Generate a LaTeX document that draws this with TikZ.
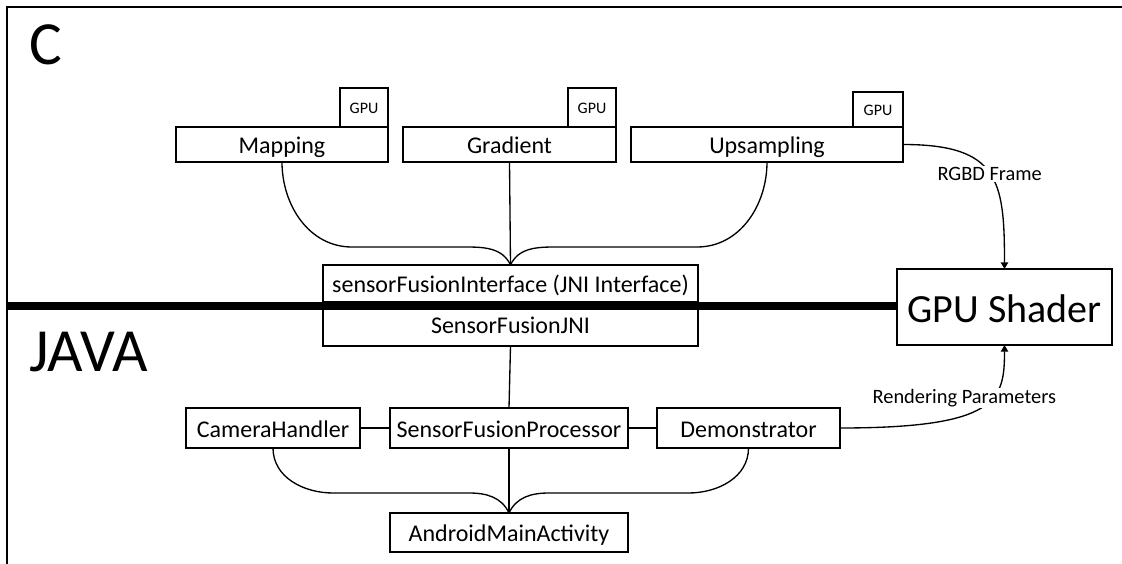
\documentclass[tikz,border=0pt]{standalone}
\usepackage{fontspec}
\setmainfont{Carlito}
\usetikzlibrary{arrows.meta, positioning, calc}

\begin{document}
\begin{tikzpicture}[
    x=0.75pt, y=0.75pt,
    box/.style={rectangle, draw, line width=1pt, inner sep=0pt, outer sep=0pt, minimum height=26.25pt, text height=14pt, text depth=0pt, text centered, font=\fontsize{18}{22}\selectfont},
    tag/.style={rectangle, draw, line width=1pt, inner sep=0pt, outer sep=0pt, minimum width=36pt, minimum height=29.25pt, text height=9.5pt, text depth=0pt, font=\fontsize{12}{14}\selectfont},
    link/.style={line width=1pt},
    arrow/.style={-{Triangle[length=5pt, width=5.5pt]}, line width=1pt},
    flow/.style={fill=white, inner sep=1pt, font=\fontsize{15.3}{18}\selectfont},
    world/.style={anchor=base west, inner sep=0pt, font=\fontsize{46}{50}\selectfont}
]
\useasboundingbox (0,0) rectangle (1122,-564);

% Frame and world labels
\draw[line width=2pt] (7,-564) -- (7,-7) -- (1122,-7);
\node[world] (cWorld) at (29,-64) {C};
\node[world] (javaWorld) at (29,-371) {JAVA};

% Native modules
\node[box, minimum width=159pt] (mapping) at (282,-144.5) {Mapping};
\node[box, minimum width=159.75pt, right=11.25pt of mapping] (gradient) {Gradient};
\node[box, minimum width=204pt, right=11.25pt of gradient] (upsampling) {Upsampling};

% GPU tags
\node[tag, above left=0pt of mapping.north east] (mappingGpu) {GPU};
\node[tag, above left=0pt of gradient.north east] (gradientGpu) {GPU};
\node[tag, minimum width=37.5pt, minimum height=26.25pt, above left=0pt of upsampling.north east] (upsamplingGpu) {GPU};

% JNI bridge
\node[box, minimum width=281.25pt, minimum height=27.75pt] (sfInterface) at (510.5,-283.5) {sensorFusionInterface (JNI Interface)};
\node[box, minimum width=281.25pt, minimum height=33pt, below=0pt of sfInterface] (sfJni) {SensorFusionJNI};

% Shader
\node[box, minimum width=161.25pt, minimum height=57pt, text height=23pt, font=\fontsize{30}{36}\selectfont] (gpuShader) at (1004.5,-307) {GPU Shader};

% Java classes
\node[box, minimum width=178.5pt, minimum height=30pt] (sfProcessor) at (509,-428) {SensorFusionProcessor};
\node[box, minimum width=130.5pt, minimum height=30pt, left=22.5pt of sfProcessor] (cameraHandler) {CameraHandler};
\node[box, minimum width=137.25pt, minimum height=30pt, right=21.75pt of sfProcessor] (demonstrator) {Demonstrator};
\node[box, minimum width=178.5pt, minimum height=29.25pt, below=48.75pt of sfProcessor] (mainActivity) {AndroidMainActivity};

% Fan-in to the interface
\draw[link] (gradient.south) -- (sfInterface.north);
\draw[link] (mapping.south) to[out=-90, in=180] ($(mapping.south)+(70,-85)$) -- ($(sfInterface.north)+(-45,18)$) to[out=0, in=115] (sfInterface.north);
\draw[link] (upsampling.south) to[out=-90, in=0] ($(upsampling.south)+(-70,-85)$) -- ($(sfInterface.north)+(45,18)$) to[out=180, in=65] (sfInterface.north);

% Java side
\draw[link] (sfJni.south) -- (sfProcessor.north);
\draw[link] (cameraHandler.east) -- (sfProcessor.west);
\draw[link] (sfProcessor.east) -- (demonstrator.west);
\draw[link] (sfProcessor.south) -- (mainActivity.north);
\draw[link] (cameraHandler.south) to[out=-90, in=180] ($(cameraHandler.south)+(60,-45)$) -- ($(mainActivity.north)+(-40,20)$) to[out=0, in=115] (mainActivity.north);
\draw[link] (demonstrator.south) to[out=-90, in=0] ($(demonstrator.south)+(-60,-45)$) -- ($(mainActivity.north)+(40,20)$) to[out=180, in=65] (mainActivity.north);

% Data into the shader
\draw[arrow] (upsampling.east) to[out=0, in=90, out looseness=1.53, in looseness=1.41] node[flow, pos=0.5] {RGBD Frame} (gpuShader.north);
\draw[arrow] (demonstrator.east) to[out=0, in=-90, out looseness=2.2, in looseness=0.76] node[flow, pos=0.5, xshift=-13pt, yshift=6.75pt] {Rendering Parameters} (gpuShader.south);

% C / Java boundary
\coordinate (sepStart) at (7,-306);
\draw[line width=6pt] (sepStart) -- (sepStart -| gpuShader.west);

\end{tikzpicture}
\end{document}
